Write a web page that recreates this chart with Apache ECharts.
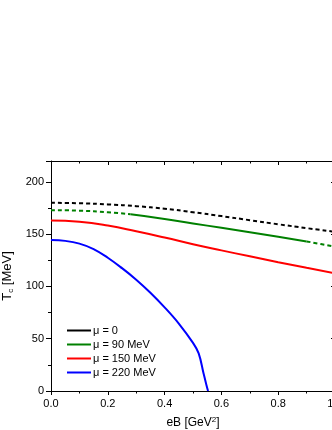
<!DOCTYPE html>
<html><head><meta charset="utf-8">
<script src="https://cdn.jsdelivr.net/npm/echarts@6/dist/echarts.min.js"></script>
<style>html,body{margin:0;padding:0;background:#fff}#c{width:332px;height:430px}</style>
</head><body><div id="c"></div>
<script>
var xTicks = [0, 0.2, 0.4, 0.6, 0.8, 1.0];
var yTicks = [0, 50, 100, 150, 200];
var names = ['\u03bc = 0', '\u03bc = 90 MeV', '\u03bc = 150 MeV', '\u03bc = 220 MeV'];

var eB0 = [0, 0.1, 0.2, 0.3, 0.4, 0.5, 0.6, 0.7, 0.8, 0.9, 1.0];
var T0 = [180, 179.6, 178.5, 176.8, 174.4, 171, 167.3, 163.4, 159.5, 155.8, 152.3];

var eB90 = [0, 0.1, 0.2, 0.28, 0.4, 0.5, 0.6, 0.7, 0.8, 0.9, 1.0];
var T90 = [173, 172.5, 171, 169, 164.6, 160.3, 156.1, 151.9, 147.6, 143.1, 138];
var green1End = 0.28, green2End = 0.9;

var eB150 = [0, 0.1, 0.2, 0.3, 0.4, 0.5, 0.6, 0.7, 0.8, 0.9, 1.0];
var T150 = [163, 161.8, 158.2, 152.8, 146.8, 140.4, 134.5, 128.8, 123.2, 117.8, 112.5];

var eB220 = [0, 0.05, 0.1, 0.15, 0.2, 0.25, 0.3, 0.35, 0.4, 0.45, 0.5, 0.52, 0.537, 0.547, 0.553];
var T220 = [144.5, 143.6, 141, 135.8, 127.5, 117.5, 106.5, 94, 80, 64.5, 46, 36, 17, 6, 0];

function pairs(xs, ys, lo, hi) {
  var out = [];
  for (var i = 0; i < xs.length; i++) {
    if ((lo === undefined || xs[i] >= lo) && (hi === undefined || xs[i] <= hi)) out.push([xs[i], ys[i]]);
  }
  return out;
}

var FONT = 'Liberation Sans, Arial, sans-serif';
var chart = echarts.init(document.getElementById('c'), null, {renderer: 'canvas'});
var lw = 2;
var dash = [4, 3];
function axisCommon(extra) {
  return Object.assign({
    axisLine: {show: true, onZero: false, lineStyle: {color: '#000', width: 1}},
    splitLine: {show: false}
  }, extra);
}
var option = {
  animation: false,
  backgroundColor: '#fff',
  grid: {left: 51, top: 161, width: 284, height: 230, containLabel: false, outerBoundsMode: 'none'},
  legend: {
    orient: 'vertical', left: 62, top: 320,
    icon: 'rect', itemWidth: 24, itemHeight: 2, itemGap: 3,
    textStyle: {fontFamily: FONT, fontSize: 11, color: '#000', padding: [0, 0, 0, -3]},
    data: names
  },
  xAxis: [
    axisCommon({type: 'value', position: 'bottom', min: 0, max: 1, interval: 0.2,
      axisTick: {show: true, inside: false, length: 4, lineStyle: {color: '#000'}},
      minorTick: {show: true, splitNumber: 2, length: 2.5, lineStyle: {color: '#000'}},
      axisLabel: {fontFamily: FONT, fontSize: 11, color: '#000', margin: 7,
        formatter: function (v) { return v.toFixed(1); }},
      name: 'eB [GeV{sup|2}]', nameLocation: 'middle', nameGap: 25,
      nameTextStyle: {fontFamily: FONT, fontSize: 12, color: '#000',
        rich: {sup: {fontFamily: FONT, fontSize: 8, verticalAlign: 'top', padding: [0, 0, 6, 0], color: '#000'}}}
    }),
    axisCommon({type: 'value', position: 'top', min: 0, max: 1, interval: 0.2,
      axisTick: {show: true, inside: true, length: 4, lineStyle: {color: '#000'}},
      minorTick: {show: true, splitNumber: 2, length: 2.5, lineStyle: {color: '#000'}},
      axisLabel: {show: false}
    })
  ],
  yAxis: [
    axisCommon({type: 'value', position: 'left', min: 0, max: 220, interval: 50,
      axisTick: {show: true, inside: false, length: 5, lineStyle: {color: '#000'}},
      minorTick: {show: true, splitNumber: 2, length: 3, lineStyle: {color: '#000'}},
      axisLabel: {fontFamily: FONT, fontSize: 11, color: '#000', margin: 7, showMaxLabel: false},
      name: 'T{sub|c} [MeV]', nameLocation: 'middle', nameGap: 31, nameRotate: 90,
      nameTextStyle: {fontFamily: FONT, fontSize: 13, color: '#000',
        rich: {sub: {fontFamily: FONT, fontSize: 8, verticalAlign: 'bottom', padding: [6, 0, 0, 0], color: '#000'}}}
    }),
    axisCommon({type: 'value', position: 'right', min: 0, max: 220, interval: 50,
      axisTick: {show: true, inside: true, length: 4, lineStyle: {color: '#000'}},
      minorTick: {show: true, splitNumber: 2, length: 2.5, lineStyle: {color: '#000'}},
      axisLabel: {show: false}
    })
  ],
  series: [
    {name: names[0], type: 'line', smooth: 0.5, showSymbol: false, symbol: 'none', color: '#000',
     lineStyle: {width: lw, type: dash, color: '#000'}, data: pairs(eB0, T0)},
    {name: names[1], type: 'line', smooth: 0.5, showSymbol: false, symbol: 'none', color: '#008000',
     lineStyle: {width: lw, type: dash, color: '#008000'}, data: pairs(eB90, T90, undefined, green1End)},
    {name: names[1], type: 'line', smooth: 0.5, showSymbol: false, symbol: 'none', color: '#008000',
     lineStyle: {width: lw, type: 'solid', color: '#008000'}, data: pairs(eB90, T90, green1End, green2End)},
    {name: names[1], type: 'line', smooth: 0.5, showSymbol: false, symbol: 'none', color: '#008000',
     lineStyle: {width: lw, type: dash, color: '#008000'}, data: pairs(eB90, T90, green2End)},
    {name: names[2], type: 'line', smooth: 0.5, showSymbol: false, symbol: 'none', color: '#ff0000',
     lineStyle: {width: lw, color: '#ff0000'}, data: pairs(eB150, T150)},
    {name: names[3], type: 'line', smooth: 0.4, showSymbol: false, symbol: 'none', color: '#0000ff',
     lineStyle: {width: lw, color: '#0000ff'}, data: pairs(eB220, T220)}
  ]
};
chart.setOption(option);
</script></body></html>
